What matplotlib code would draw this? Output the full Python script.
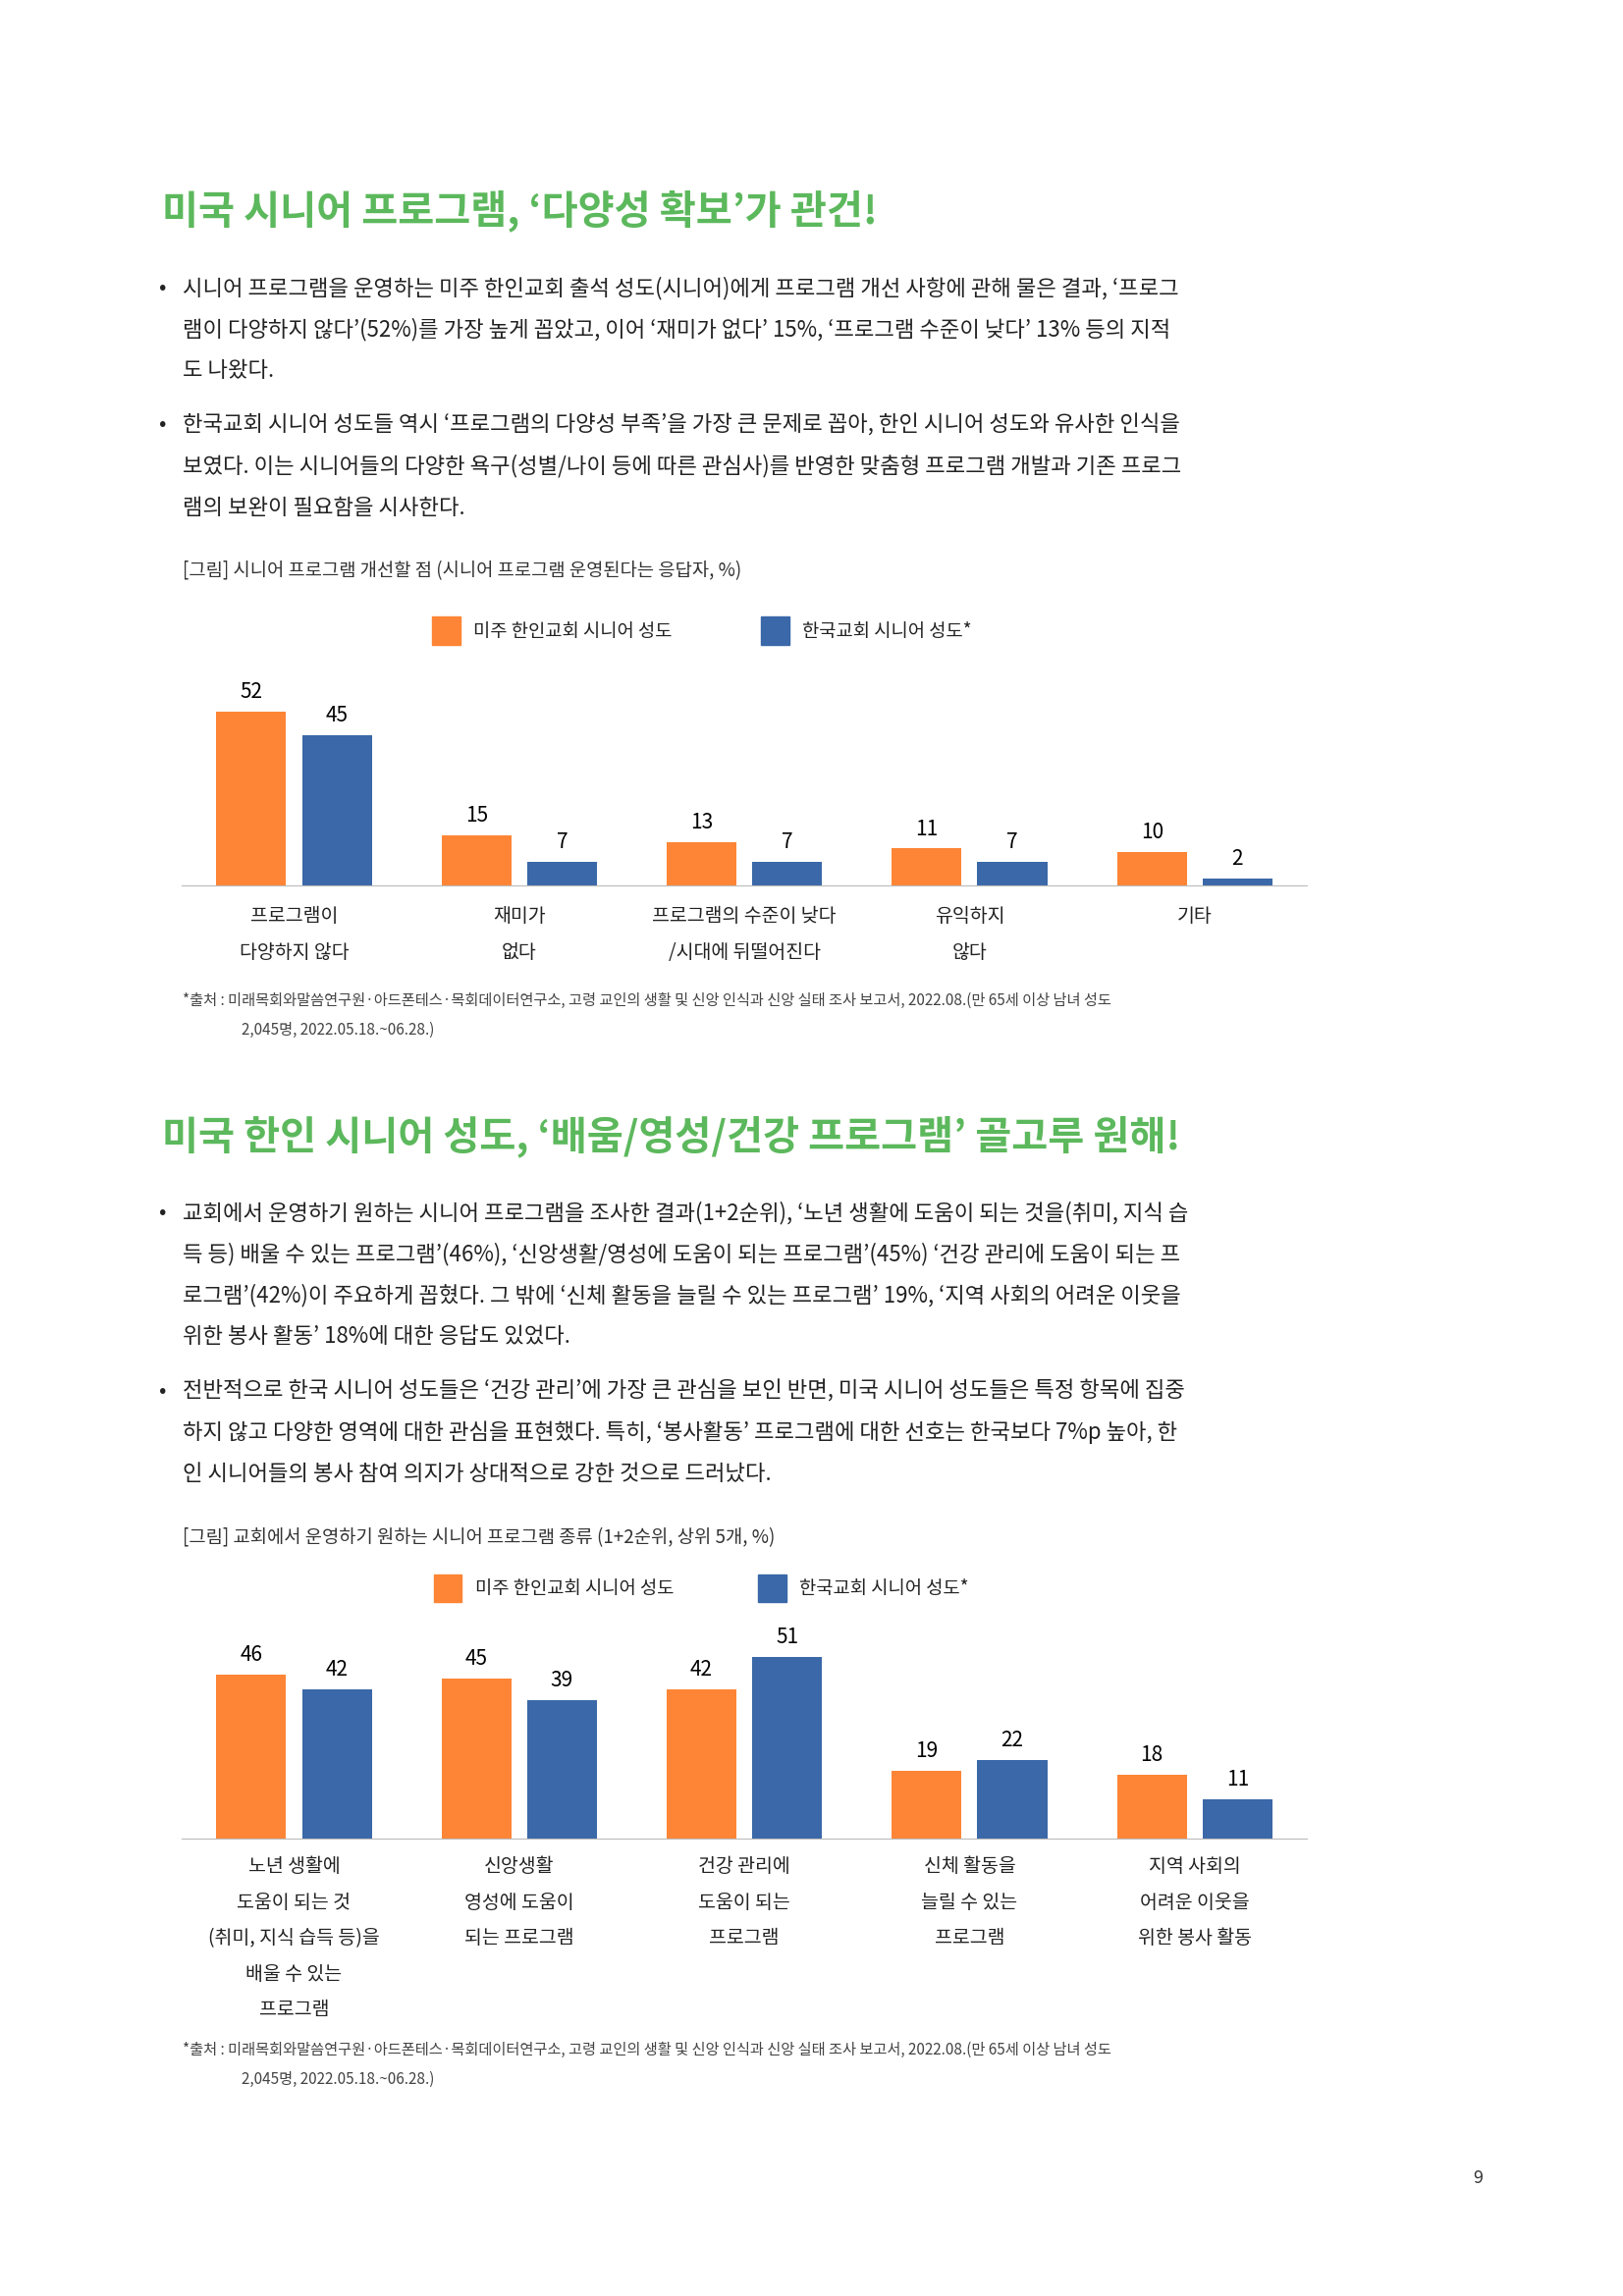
import matplotlib
matplotlib.use("Agg")
import matplotlib.pyplot as plt
from matplotlib import font_manager
from matplotlib.patches import Rectangle

names = {f.name for f in font_manager.fontManager.ttflist}
cjk = [n for n in ["Noto Sans CJK KR", "Noto Sans CJK JP", "Noto Sans CJK SC", "Noto Sans CJK TC"] if n in names]
plt.rcParams["font.family"] = cjk + ["DejaVu Sans"]

ORANGE = "#fd8535"
BLUE = "#3a68a8"
GREEN = "#5cb85c"
W, H = 1100.0, 1556.0

# chart 1 data
cats1 = ["프로그램이\n다양하지 않다", "재미가\n없다", "프로그램의 수준이 낮다\n/시대에 뒤떨어진다", "유익하지\n않다", "기타"]
us1 = [52, 15, 13, 11, 10]
kr1 = [45, 7, 7, 7, 2]

# chart 2 data
cats2 = ["노년 생활에\n도움이 되는 것\n(취미, 지식 습득 등)을\n배울 수 있는\n프로그램", "신앙생활\n영성에 도움이\n되는 프로그램",
         "건강 관리에\n도움이 되는\n프로그램", "신체 활동을\n늘릴 수 있는\n프로그램", "지역 사회의\n어려운 이웃을\n위한 봉사 활동"]
us2 = [46, 45, 42, 19, 18]
kr2 = [42, 39, 51, 22, 11]

legend_labels = ["미주 한인교회 시니어 성도", "한국교회 시니어 성도*"]

fig = plt.figure(figsize=(16.53, 23.39), dpi=100)


def t(x, y, s, **kw):
    fig.text(x / W, 1 - y / H, s, va="center", **kw)


t(110, 143, "미국 시니어 프로그램, ‘다양성 확보’가 관건!", fontsize=29, color=GREEN, fontweight="bold")
bul1 = [["시니어 프로그램을 운영하는 미주 한인교회 출석 성도(시니어)에게 프로그램 개선 사항에 관해 물은 결과, ‘프로그",
         "램이 다양하지 않다’(52%)를 가장 높게 꼽았고, 이어 ‘재미가 없다’ 15%, ‘프로그램 수준이 낮다’ 13% 등의 지적",
         "도 나왔다."],
        ["한국교회 시니어 성도들 역시 ‘프로그램의 다양성 부족’을 가장 큰 문제로 꼽아, 한인 시니어 성도와 유사한 인식을",
         "보였다. 이는 시니어들의 다양한 욕구(성별/나이 등에 따른 관심사)를 반영한 맞춤형 프로그램 개발과 기존 프로그",
         "램의 보완이 필요함을 시사한다."]]
bul2 = [["교회에서 운영하기 원하는 시니어 프로그램을 조사한 결과(1+2순위), ‘노년 생활에 도움이 되는 것을(취미, 지식 습",
         "득 등) 배울 수 있는 프로그램’(46%), ‘신앙생활/영성에 도움이 되는 프로그램’(45%) ‘건강 관리에 도움이 되는 프",
         "로그램’(42%)이 주요하게 꼽혔다. 그 밖에 ‘신체 활동을 늘릴 수 있는 프로그램’ 19%, ‘지역 사회의 어려운 이웃을",
         "위한 봉사 활동’ 18%에 대한 응답도 있었다."],
        ["전반적으로 한국 시니어 성도들은 ‘건강 관리’에 가장 큰 관심을 보인 반면, 미국 시니어 성도들은 특정 항목에 집중",
         "하지 않고 다양한 영역에 대한 관심을 표현했다. 특히, ‘봉사활동’ 프로그램에 대한 선호는 한국보다 7%p 높아, 한",
         "인 시니어들의 봉사 참여 의지가 상대적으로 강한 것으로 드러났다."]]


def bullets(blocks, y0s):
    for lines, y0 in zip(blocks, y0s):
        t(108, y0, "•", fontsize=16, color="#222222")
        for i, ln in enumerate(lines):
            t(124, y0 + 28 * i, ln, fontsize=16, color="#222222")


bullets(bul1, [195, 288])
t(124, 387, "[그림] 시니어 프로그램 개선할 점 (시니어 프로그램 운영된다는 응답자, %)", fontsize=13.5, color="#333333")


def legend(y, x1, x2):
    for x, c, lab in [(x1, ORANGE, legend_labels[0]), (x2, BLUE, legend_labels[1])]:
        fig.patches.append(Rectangle((x / W, 1 - (y + 9) / H), 19 / W, 19 / H, transform=fig.transFigure,
                                     color=c, figure=fig))
        t(x + 28, y, lab, fontsize=13.5, color="#222222")


def chart(top, base, us, kr, cats, ymax, label_y):
    ax = fig.add_axes([123 / W, 1 - base / H, 763 / W, (base - top) / H])
    xs = range(len(us))
    w = 0.31
    ax.bar([x - 0.19 for x in xs], us, w, color=ORANGE)
    ax.bar([x + 0.19 for x in xs], kr, w, color=BLUE)
    for x, a, b in zip(xs, us, kr):
        ax.text(x - 0.19, a + ymax * 0.04, str(a), ha="center", va="bottom", fontsize=15)
        ax.text(x + 0.19, b + ymax * 0.04, str(b), ha="center", va="bottom", fontsize=15)
    ax.set_xlim(-0.5, 4.5)
    ax.set_ylim(0, ymax)
    for s in ["top", "right", "left"]:
        ax.spines[s].set_visible(False)
    ax.spines["bottom"].set_color("#bbbbbb")
    ax.set_yticks([])
    ax.set_xticks([])
    for x, c in zip(xs, cats):
        for i, ln in enumerate(c.split("\n")):
            t(123 + (x + 0.5) * 152.6, label_y + 24.3 * i, ln, fontsize=14, ha="center", color="#222222")


legend(428, 293, 516)
chart(455, 600, us1, kr1, cats1, 64, 621)

src1 = "*출처 : 미래목회와말씀연구원·아드폰테스·목회데이터연구소, 고령 교인의 생활 및 신앙 인식과 신앙 실태 조사 보고서, 2022.08.(만 65세 이상 남녀 성도"
src2 = "2,045명, 2022.05.18.~06.28.)"
for y in (678, 1389):
    t(124, y, src1, fontsize=11, color="#444444")
    t(164, y + 20, src2, fontsize=11, color="#444444")

t(110, 770, "미국 한인 시니어 성도, ‘배움/영성/건강 프로그램’ 골고루 원해!", fontsize=29, color=GREEN, fontweight="bold")
bullets(bul2, [822, 943])
t(124, 1042, "[그림] 교회에서 운영하기 원하는 시니어 프로그램 종류 (1+2순위, 상위 5개, %)", fontsize=13.5, color="#333333")
legend(1077, 294, 514)
chart(1100, 1246, us2, kr2, cats2, 60.5, 1265)

t(1002, 1476, "9", fontsize=13, color="#333333", ha="center")

fig.savefig("out.png", dpi=100)
